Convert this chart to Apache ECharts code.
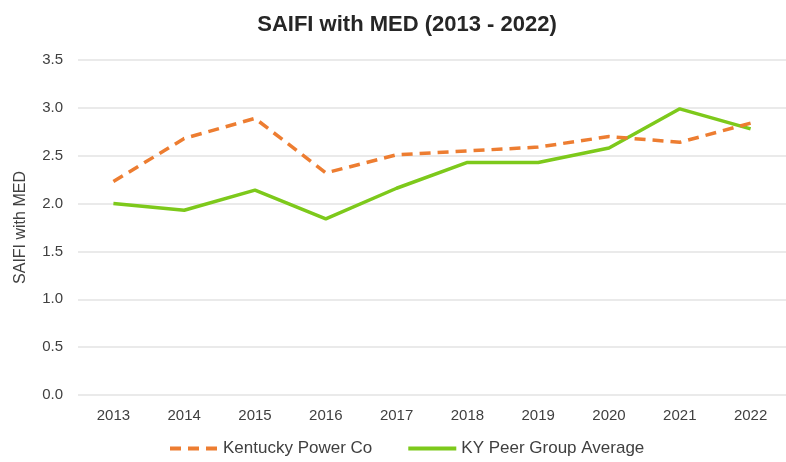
<!DOCTYPE html>
<html>
<head>
<meta charset="utf-8">
<script src="https://cdn.jsdelivr.net/npm/echarts@6/dist/echarts.min.js"></script>
<style>
  html, body { margin: 0; padding: 0; background: #fff; }
  #chart { width: 786px; height: 462px; }
</style>
</head>
<body>
<div id="chart"></div>
<script>
const years = ['2013', '2014', '2015', '2016', '2017', '2018', '2019', '2020', '2021', '2022'];
const kentuckyPower = [2.23, 2.68, 2.89, 2.32, 2.51, 2.55, 2.59, 2.70, 2.64, 2.84];
const peerAverage = [2.00, 1.93, 2.14, 1.84, 2.16, 2.43, 2.43, 2.58, 2.99, 2.78];

let chartDom = document.getElementById('chart');
let myChart = echarts.init(chartDom);
let option;

const labelColor = '#404040';
const font = '"Liberation Sans", Arial, sans-serif';

option = {
  animation: false,
  textStyle: { fontFamily: font },
  title: {
    text: 'SAIFI with MED (2013 - 2022)',
    left: 402,
    textAlign: 'center',
    top: 9,
    textStyle: { fontSize: 22, fontWeight: 'bold', color: '#262626', fontFamily: font }
  },
  legend: {
    bottom: 0,
    left: 163,
    itemWidth: 48,
    itemHeight: 14,
    itemGap: 34,
    itemStyle: { opacity: 0 },
    lineStyle: { width: 4 },
    textStyle: { fontSize: 17, color: labelColor, fontFamily: font },
    data: ['Kentucky Power Co', 'KY Peer Group Average']
  },
  grid: {
    left: 78,
    right: -10,
    top: 60,
    bottom: 67
  },
  xAxis: {
    type: 'category',
    data: years,
    boundaryGap: true,
    axisLine: { show: false },
    axisTick: { show: false },
    axisLabel: { color: labelColor, fontSize: 15, margin: 13 }
  },
  yAxis: {
    type: 'value',
    min: 0,
    max: 3.5,
    interval: 0.5,
    name: 'SAIFI with MED',
    nameLocation: 'middle',
    nameGap: 49,
    nameTextStyle: { color: '#404040', fontSize: 16 },
    axisLabel: {
      color: labelColor,
      fontSize: 15,
      margin: 15,
      formatter: v => v.toFixed(1)
    },
    splitLine: { lineStyle: { color: '#e3e3e3', width: 1.5 } }
  },
  series: [
    {
      name: 'Kentucky Power Co',
      type: 'line',
      symbol: 'none',
      data: kentuckyPower,
      itemStyle: { color: '#ED7D31' },
      lineStyle: { color: '#ED7D31', width: 3.5, type: [11, 7] },
      z: 3
    },
    {
      name: 'KY Peer Group Average',
      type: 'line',
      symbol: 'none',
      data: peerAverage,
      itemStyle: { color: '#7DC91B' },
      lineStyle: { color: '#7DC91B', width: 3.5 },
      z: 2
    }
  ]
};

option && myChart.setOption(option);
</script>
</body>
</html>
